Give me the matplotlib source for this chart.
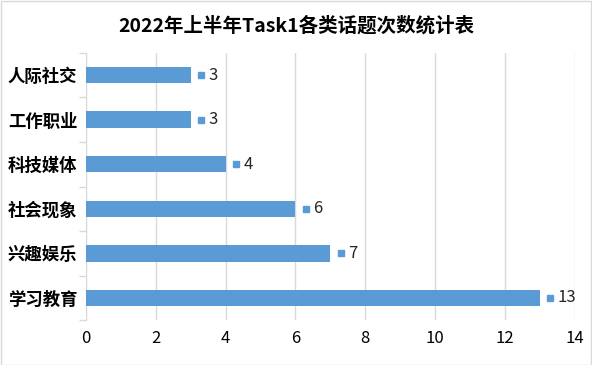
import matplotlib.pyplot as plt
from matplotlib.transforms import offset_copy
from matplotlib.patches import Rectangle

plt.rcParams['font.family'] = ['Noto Sans CJK SC', 'DejaVu Sans']

categories = ['人际社交', '工作职业', '科技媒体', '社会现象', '兴趣娱乐', '学习教育']
counts = [3, 3, 4, 6, 7, 13]
x_ticks = [0, 2, 4, 6, 8, 10, 12, 14]

bar_color = '#5B9BD5'
grid_color = '#D9D9D9'

fig = plt.figure(figsize=(5.92, 3.65), dpi=100)
ax = fig.add_axes([0.145, 0.123, 0.826, 0.732])

ypos = list(range(len(categories)))
ax.barh(ypos, counts, height=0.37, color=bar_color, zorder=3)
ax.set_ylim(len(categories) - 0.5, -0.5)
ax.set_xlim(0, 14)
ax.set_xticks(x_ticks)
ax.set_xticklabels([str(t) for t in x_ticks], fontsize=12)
ax.tick_params(axis='x', length=0, pad=7)

ax.set_yticks(ypos)
ax.set_yticklabels(categories, fontsize=12.5, fontweight='bold')
ax.tick_params(axis='y', which='major', length=0, pad=6)
ax.set_yticks([i + 0.5 for i in range(-1, len(categories))], minor=True)
ax.tick_params(axis='y', which='minor', length=5, color=grid_color, width=1)

ax.grid(axis='x', color=grid_color, linewidth=1, zorder=0)
for s in ['top', 'right', 'bottom']:
    ax.spines[s].set_visible(False)
ax.spines['left'].set_color(grid_color)

# data labels with legend key
sq_tr = offset_copy(ax.transData, fig=fig, x=7.5, y=0, units='points')
txt_tr = offset_copy(ax.transData, fig=fig, x=13, y=0, units='points')
for y, v in zip(ypos, counts):
    ax.plot([v], [y], marker='s', markersize=4.5, color=bar_color, transform=sq_tr,
            clip_on=False, zorder=4)
    ax.text(v, y, str(v), transform=txt_tr, va='center', ha='left', fontsize=12,
            color='#262626', zorder=4)

fig.suptitle('2022年上半年Task1各类话题次数统计表', fontsize=14, fontweight='bold',
             y=0.955, x=0.5)
fig.add_artist(Rectangle((0.001, 0.001), 0.997, 0.997, transform=fig.transFigure,
                         fill=False, edgecolor='#D9D9D9', linewidth=1))

fig.savefig('out.png', dpi=100)
